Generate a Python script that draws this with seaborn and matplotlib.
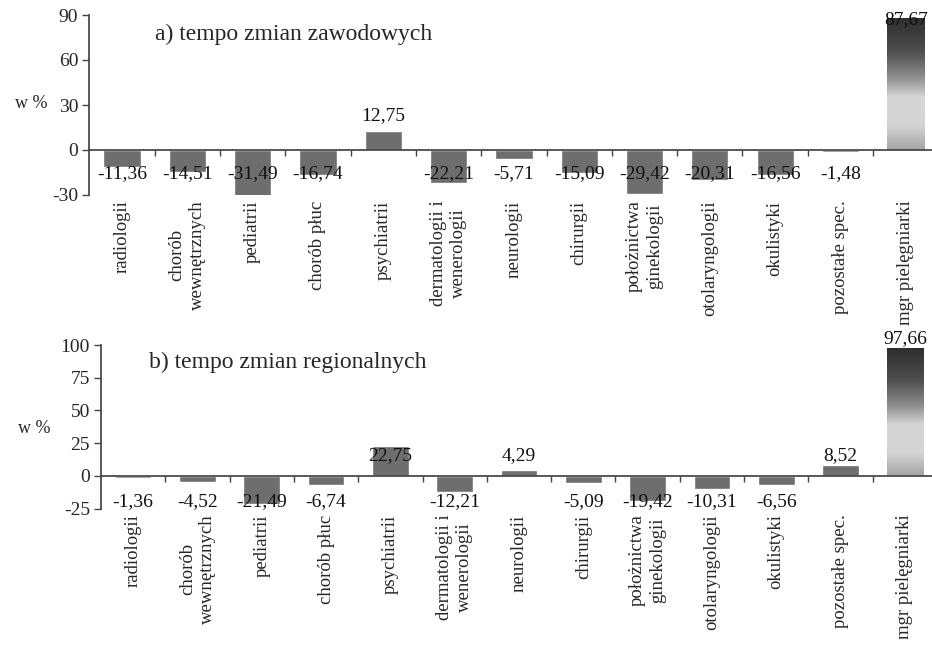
import numpy as np
import pandas as pd
import seaborn as sns
import matplotlib.pyplot as plt
from matplotlib.colors import LinearSegmentedColormap

sns.set_theme(style="white")
plt.rcParams['font.family'] = ['Liberation Serif', 'DejaVu Serif']
plt.rcParams['font.size'] = 14
plt.rcParams['axes.unicode_minus'] = False

categories = ['radiologii', 'chorób\nwewnętrznych', 'pediatrii', 'chorób płuc',
              'psychiatrii', 'dermatologii i\nwenerologii', 'neurologii', 'chirurgii',
              'położnictwa\nginekologii', 'otolaryngologii', 'okulistyki',
              'pozostałe spec.', 'mgr pielęgniarki']
zawodowe = [-11.36, -14.51, -31.49, -16.74, 12.75, -22.21, -5.71, -15.09,
            -29.42, -20.31, -16.56, -1.48, 87.67]
regionalne = [-1.36, -4.52, -21.49, -6.74, 22.75, -12.21, 4.29, -5.09,
              -19.42, -10.31, -6.56, 8.52, 97.66]
titles = ['a) tempo zmian zawodowych', 'b) tempo zmian regionalnych']
yticks_a = [-30, 0, 30, 60, 90]
yticks_b = [-25, 0, 25, 50, 75, 100]

bar_color = '#6e6e6e'
grad = LinearSegmentedColormap.from_list(
    'g', [(0, '#2e2e2e'), (0.25, '#4e4e4e'), (0.45, '#8e8e8e'),
          (0.6, '#d6d6d6'), (0.82, '#d4d4d4'), (1, '#a4a4a4')])

fig = plt.figure(figsize=(9.32, 6.58), dpi=100)
ax1 = fig.add_axes([89.4 / 932, 1 - 195 / 658, 849 / 932, 180 / 658])
ax2 = fig.add_axes([101 / 932, 1 - 508.7 / 658, 836 / 932, 163.7 / 658])


def label_pos(v, panel):
    # where the value labels sit
    if panel == 0:
        if v < 0:
            return -16
        return v - 1 if v > 50 else v + 10.5
    if v < 0:
        return -19.4
    return v + 7.5 if v > 50 else 15.8


def draw(ax, values, yticks, title, panel, ylab_xy, title_xy):
    df = pd.DataFrame({'kat': categories, 'val': values})
    sns.barplot(data=df, x='kat', y='val', color=bar_color, saturation=1,
                width=0.57, ax=ax)
    n = len(categories)
    ax.set_yticks(yticks)
    ax.tick_params(axis='y', direction='out', length=5, width=1, color='#444444',
                   left=True, labelsize=14, pad=3)

    # gradient on the last bar
    p = ax.patches[-1]
    x0, y0, w, h = p.get_x(), p.get_y(), p.get_width(), p.get_height()
    p.set_facecolor('none')
    im = ax.imshow(np.linspace(0, 1, 256).reshape(-1, 1), cmap=grad, aspect='auto',
                   extent=[x0, x0 + w, y0, y0 + h], origin='upper', zorder=2)
    im.set_clip_path(p)
    ax.set_xlim(-0.5, n - 0.5)
    ax.set_ylim(yticks[0], yticks[-1])

    for spine in ['top', 'right']:
        ax.spines[spine].set_visible(False)
    ax.spines['left'].set_color('#444444')
    ax.spines['bottom'].set_color('#444444')
    ax.spines['bottom'].set_position(('data', 0))
    ax.spines['bottom'].set_zorder(3)
    ax.set_xticks(np.arange(0.5, n - 0.5, 1))
    ax.set_xticklabels([])
    ax.tick_params(axis='x', direction='out', length=4, width=1, color='#444444',
                   bottom=True)
    ax.set_xlabel('')

    sec = ax.secondary_xaxis('bottom')
    sec.set_xticks(range(n))
    sec.set_xticklabels(categories, rotation=90, fontsize=13.5, va='top',
                        ha='center', multialignment='center', linespacing=1.25)
    sec.tick_params(length=0, pad=4)
    sec.spines['bottom'].set_visible(False)

    for i, v in enumerate(values):
        ax.text(i, label_pos(v, panel), f'{v:.2f}'.replace('.', ','), ha='center',
                va='center', fontsize=14, color='#111111', zorder=5, clip_on=False)

    ax.set_ylabel('w %', rotation=0, fontsize=13)
    ax.yaxis.set_label_coords(*ylab_xy)
    ax.text(*title_xy, title, transform=ax.transAxes, fontsize=17, va='center',
            ha='left')


draw(ax1, zawodowe, yticks_a, titles[0], 0, (-0.068, 0.46), (0.077, 0.89))
draw(ax2, regionalne, yticks_b, titles[1], 1, (-0.08, 0.44), (0.058, 0.896))

fig.savefig('out.png', dpi=100)
